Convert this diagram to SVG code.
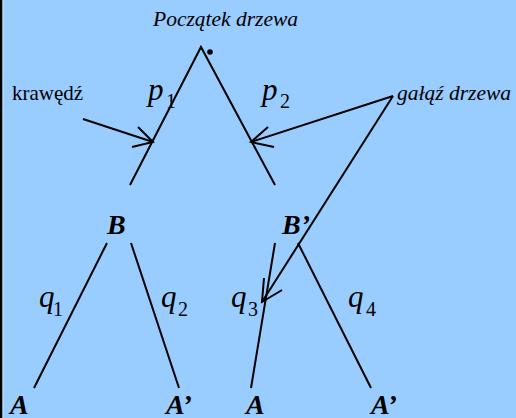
<svg xmlns="http://www.w3.org/2000/svg" width="516" height="418" viewBox="0 0 516 418" font-family="'Liberation Serif', 'Times New Roman', serif">
<style>
text, tspan{font-family:'Liberation Serif', 'Times New Roman', serif;fill:#000}
.lbl{font-style:italic;font-size:21.5px}
.node{font-style:italic;font-weight:bold;font-size:28px}
.var{font-style:italic;font-size:31px}
.sub{font-style:normal;font-size:20px}
.ln{stroke:#000;stroke-width:2;fill:none;stroke-linecap:butt}
</style>
<rect x="0" y="0" width="516" height="418" fill="#99ccff"/>
<rect x="0" y="0" width="2.5" height="418" fill="#000"/>
<rect x="2.5" y="0" width="1.2" height="418" fill="#b4dcff"/>

<g id="connectors" class="ln">
  <polyline points="130,185 201,47 275,185"/>
  <line x1="107" y1="243" x2="34" y2="388"/>
  <line x1="131" y1="243" x2="179" y2="388"/>
  <line x1="275" y1="243" x2="251" y2="388"/>
  <line x1="298" y1="243" x2="371" y2="388"/>
  <line x1="83" y1="119" x2="153" y2="142"/>
  <polyline points="138,127 153,142 132,147"/>
  <line x1="393" y1="96" x2="251" y2="142"/>
  <polyline points="268,127 251,142 274,147"/>
  <line x1="393" y1="96" x2="262" y2="302"/>
  <polyline points="282,290 262,302 264,278"/>
</g>

<g id="root">
  <text class="lbl" x="153" y="26" font-family="Liberation Serif">Początek drzewa</text>
  <circle cx="210" cy="52" r="2.8" fill="#000"/>
</g>
<g id="label-krawedz"><text x="12" y="100" font-size="21" font-family="Liberation Serif">krawędź</text></g>
<g id="label-galaz"><text class="lbl" x="397" y="100" font-family="Liberation Serif">gałąź drzewa</text></g>

<g id="p1"><text x="148" y="100" font-family="Liberation Serif"><tspan class="var">p</tspan><tspan class="sub" x="166" y="108">1</tspan></text></g>
<g id="p2"><text x="262" y="100" font-family="Liberation Serif"><tspan class="var">p</tspan><tspan class="sub" x="280" y="108">2</tspan></text></g>

<g id="nodeB"><text class="node" x="107" y="234" font-family="Liberation Serif">B</text></g>
<g id="nodeB2"><text class="node" x="282" y="234" font-family="Liberation Serif">B’</text></g>

<g id="q1"><text x="39" y="307" font-family="Liberation Serif"><tspan class="var">q</tspan><tspan class="sub" x="53" y="316">1</tspan></text></g>
<g id="q2"><text x="161" y="307" font-family="Liberation Serif"><tspan class="var">q</tspan><tspan class="sub" x="178" y="316">2</tspan></text></g>
<g id="q3"><text x="231" y="307" font-family="Liberation Serif"><tspan class="var">q</tspan><tspan class="sub" x="248" y="316">3</tspan></text></g>
<g id="q4"><text x="348" y="307" font-family="Liberation Serif"><tspan class="var">q</tspan><tspan class="sub" x="366" y="316">4</tspan></text></g>

<g id="nodeA1"><text class="node" x="10" y="414" font-family="Liberation Serif">A</text></g>
<g id="nodeA2"><text class="node" x="166" y="414" font-family="Liberation Serif">A’</text></g>
<g id="nodeA3"><text class="node" x="246" y="414" font-family="Liberation Serif">A</text></g>
<g id="nodeA4"><text class="node" x="371" y="414" font-family="Liberation Serif">A’</text></g>
</svg>
